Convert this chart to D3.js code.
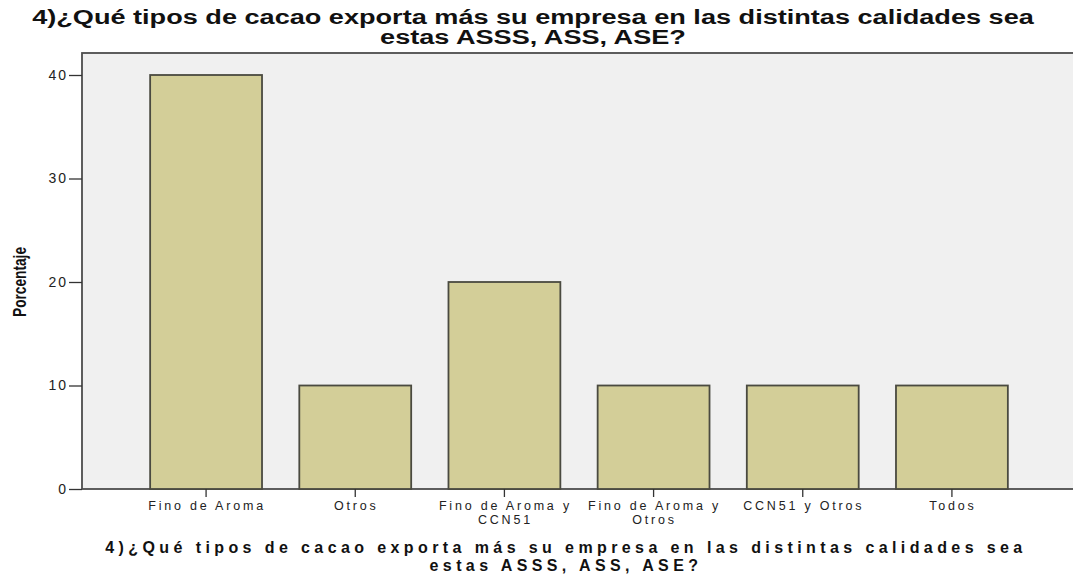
<!DOCTYPE html>
<html><head><meta charset="utf-8">
<script src="https://cdn.jsdelivr.net/npm/d3@7"></script>
<style>body{margin:0;background:#fff}svg{display:block}</style>
</head><body>
<svg id="c" width="1073" height="575"></svg>
<script>
const categories = [["Fino de Aroma"],["Otros"],["Fino de Aroma y","CCN51"],["Fino de Aroma y","Otros"],["CCN51 y Otros"],["Todos"]];
const values = [40, 10, 20, 10, 10, 10];
const yTicks = [0, 10, 20, 30, 40];
const titleLines = ["4)¿Qué tipos de cacao exporta más su empresa en las distintas calidades sea", "estas ASSS, ASS, ASE?"];
const yLabel = "Porcentaje";

const svg = d3.select("#c");
const plot = {left: 82, top: 53, right: 1080, bottom: 489};
const keys = categories.map(d => d.join(" "));
const x = d3.scaleBand().domain(keys).range([131.5, 1026.5]).paddingInner(0.25).paddingOuter(0.125);
const y = d3.scaleLinear().domain([0, 40]).range([489, 75]);

svg.append("rect").attr("x", plot.left).attr("y", plot.top)
  .attr("width", plot.right - plot.left).attr("height", plot.bottom - plot.top)
  .attr("fill", "#f0f0f0").attr("stroke", "#4d4d4d").attr("stroke-width", 1.8);

svg.selectAll("rect.bar").data(values).enter().append("rect").attr("class", "bar")
  .attr("x", (d, i) => x(keys[i])).attr("width", x.bandwidth())
  .attr("y", d => y(d)).attr("height", d => y(0) - y(d))
  .attr("fill", "#d3ce98").attr("stroke", "#4a4a40").attr("stroke-width", 1.8);

// y axis
const ya = svg.append("g").attr("transform", `translate(${plot.left},0)`)
  .call(d3.axisLeft(y).tickValues(yTicks).tickSize(13).tickPadding(1).tickFormat(d3.format("d")));
ya.select(".domain").remove();
ya.selectAll(".tick line").attr("stroke", "#333").attr("stroke-width", 1.3);
ya.selectAll("text").attr("font-family", "Liberation Sans, Arial, sans-serif").attr("font-size", 14)
  .attr("fill", "#222").attr("letter-spacing", 2);

// x axis
const xa = svg.append("g").attr("transform", `translate(0,${plot.bottom})`)
  .call(d3.axisBottom(x).tickSize(8).tickFormat(""));
xa.select(".domain").remove();
xa.selectAll(".tick line").attr("stroke", "#333").attr("stroke-width", 1.3);
xa.selectAll(".tick").each(function(d, i) {
  const t = d3.select(this).append("text").attr("fill", "#222")
    .attr("font-family", "Liberation Sans, Arial, sans-serif").attr("font-size", 12.5)
    .attr("letter-spacing", 2.8).attr("text-anchor", "middle");
  categories[i].forEach((line, j) => {
    t.append("tspan").attr("x", 1).attr("y", 21 + j * 14).text(line);
  });
});

// top title, glyphs stretched horizontally like the reference
const stretch = 1.355;
const tt = svg.append("text").attr("font-family", "Liberation Sans, Arial, sans-serif")
  .attr("font-weight", "bold").attr("font-size", 20).attr("fill", "#111").attr("text-anchor", "middle");
titleLines.forEach((line, j) => {
  const s = tt.append("tspan").attr("x", 533).attr("y", 24 + j * 20).text(line);
  const w = s.node().getComputedTextLength();
  s.attr("textLength", w * stretch).attr("lengthAdjust", "spacingAndGlyphs");
});

// y label
svg.append("text").attr("transform", "translate(26,282) rotate(-90)")
  .attr("text-anchor", "middle").attr("font-family", "Liberation Sans, Arial, sans-serif")
  .attr("font-weight", "bold").attr("font-size", 19).attr("fill", "#111")
  .attr("textLength", 70).attr("lengthAdjust", "spacingAndGlyphs").text(yLabel);

// x title
const xt = svg.append("text").attr("font-family", "Liberation Sans, Arial, sans-serif")
  .attr("font-weight", "bold").attr("font-size", 16).attr("fill", "#111").attr("text-anchor", "middle")
  .attr("letter-spacing", 4.4);
xt.append("tspan").attr("x", 566).attr("y", 553).text(titleLines[0]);
xt.append("tspan").attr("x", 566).attr("y", 571).text(titleLines[1]);
</script>
</body></html>
